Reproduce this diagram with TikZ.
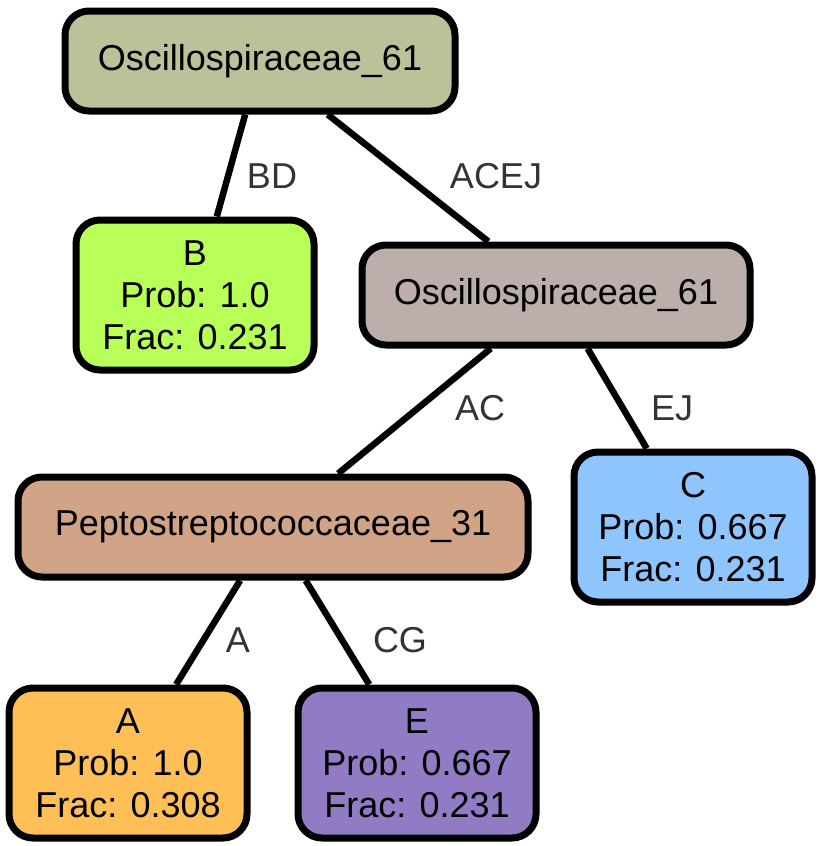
\documentclass[tikz,border=0pt]{standalone}
\usepackage{fontspec}
\setmainfont{Liberation Sans}
\usetikzlibrary{positioning}
\definecolor{rootfill}{HTML}{BBC198}
\definecolor{bfill}{HTML}{B8FF57}
\definecolor{midfill}{HTML}{BCAEAB}
\definecolor{pepfill}{HTML}{D1A487}
\definecolor{cfill}{HTML}{8EC5FC}
\definecolor{afill}{HTML}{FEC056}
\definecolor{efill}{HTML}{917BC4}
\tikzstyle{taxon} = [rectangle, rounded corners=24pt, draw=black, line width=7pt, align=center, inner sep=0pt, font=\fontsize{36}{42}\selectfont]
\tikzstyle{leaf} = [taxon, minimum width=238pt, minimum height=150pt]
\tikzstyle{split} = [taxon, minimum height=100pt]
\tikzstyle{edge} = [line width=6.5pt]
\tikzstyle{elabel} = [text=black!80, inner sep=0pt, font=\fontsize{36}{42}\selectfont]

\begin{document}
\begin{tikzpicture}[x=1pt, y=-1pt]
    \useasboundingbox (0,0) rectangle (826,846);

    \node (root) [split, minimum width=390pt, fill=rootfill] at (260,61) {Oscillospiraceae\_61};
    \node (b) [leaf, fill=bfill] at (195,295) {B\\Prob: 1.0\\Frac: 0.231};
    \node (osc) [split, minimum width=388pt, fill=midfill] at (556,295) {Oscillospiraceae\_61};
    \node (pep) [split, minimum width=510pt, fill=pepfill] at (273,527) {Peptostreptococcaceae\_31};
    \node (c) [leaf, fill=cfill] at (693,527) {C\\Prob: 0.667\\Frac: 0.231};
    \node (a) [leaf, fill=afill] at (128,763) {A\\Prob: 1.0\\Frac: 0.308};
    \node (e) [leaf, fill=efill] at (417,763) {E\\Prob: 0.667\\Frac: 0.231};

    \draw [edge] (root) -- (b);
    \draw [edge] (root) -- (osc);
    \draw [edge] (osc) -- (pep);
    \draw [edge] (osc) -- (c);
    \draw [edge] (pep) -- (a);
    \draw [edge] (pep) -- (e);

    % split labels
    \node (lbd) [elabel] at (272,176) {BD};
    \node (lacej) [elabel] at (496,176) {ACEJ};
    \node (lac) [elabel] at (480,408) {AC};
    \node (lej) [elabel] at (672,408) {EJ};
    \node (la) [elabel] at (238,640) {A};
    \node (lcg) [elabel] at (400,640) {CG};

\end{tikzpicture}
\end{document}
